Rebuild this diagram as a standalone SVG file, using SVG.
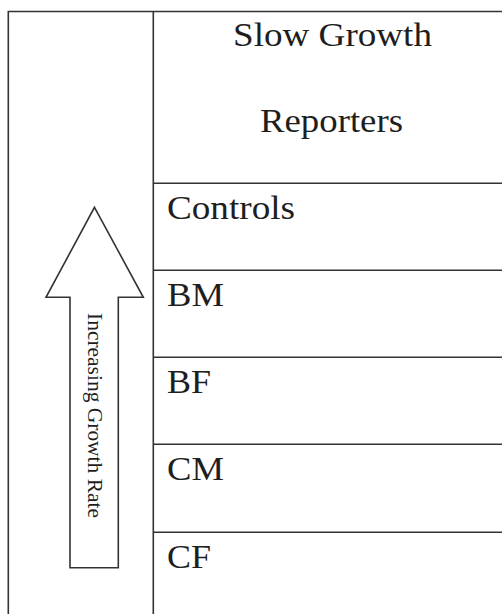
<svg xmlns="http://www.w3.org/2000/svg" width="502" height="614" viewBox="0 0 502 614">
<style>
.ln{stroke:#333;stroke-width:1.6;fill:none}
.t{font-family:"Liberation Serif","Times New Roman",serif;fill:#1e1e1e;font-size:33px}
.r{font-family:"Liberation Serif","Times New Roman",serif;fill:#1e1e1e;font-size:22px}
</style>
<rect width="502" height="614" fill="#fff"/>
<g id="frame">
<path class="ln" d="M8.3,614 V11.5 H502 M153.3,11.5 V614"/>
</g>
<g id="header">
<text class="t" x="332.5" y="45.5" text-anchor="middle" textLength="199" lengthAdjust="spacingAndGlyphs">Slow Growth</text>
<text class="t" x="331.5" y="132" text-anchor="middle" textLength="143" lengthAdjust="spacingAndGlyphs">Reporters</text>
</g>
<g id="connectors">
<path class="ln" d="M153.3,183.3 H502 M153.3,270.3 H502 M153.3,357.3 H502 M153.3,444.3 H502 M153.3,532.3 H502"/>
</g>
<g id="controls"><text class="t" x="167" y="219" textLength="128" lengthAdjust="spacingAndGlyphs">Controls</text></g>
<g id="bm"><text class="t" x="167" y="306" textLength="57" lengthAdjust="spacingAndGlyphs">BM</text></g>
<g id="bf"><text class="t" x="167" y="393" textLength="44" lengthAdjust="spacingAndGlyphs">BF</text></g>
<g id="cm"><text class="t" x="167" y="480" textLength="57" lengthAdjust="spacingAndGlyphs">CM</text></g>
<g id="cf"><text class="t" x="167" y="568" textLength="44" lengthAdjust="spacingAndGlyphs">CF</text></g>
<g id="arrow">
<polygon class="ln" points="94.5,207.3 143.3,297.3 118.3,297.3 118.3,567.7 70,567.7 70,297.3 46,297.3"/>
<text class="r" x="88" y="313" transform="rotate(90 88 313)" textLength="205" lengthAdjust="spacingAndGlyphs">Increasing Growth Rate</text>
</g>
</svg>
